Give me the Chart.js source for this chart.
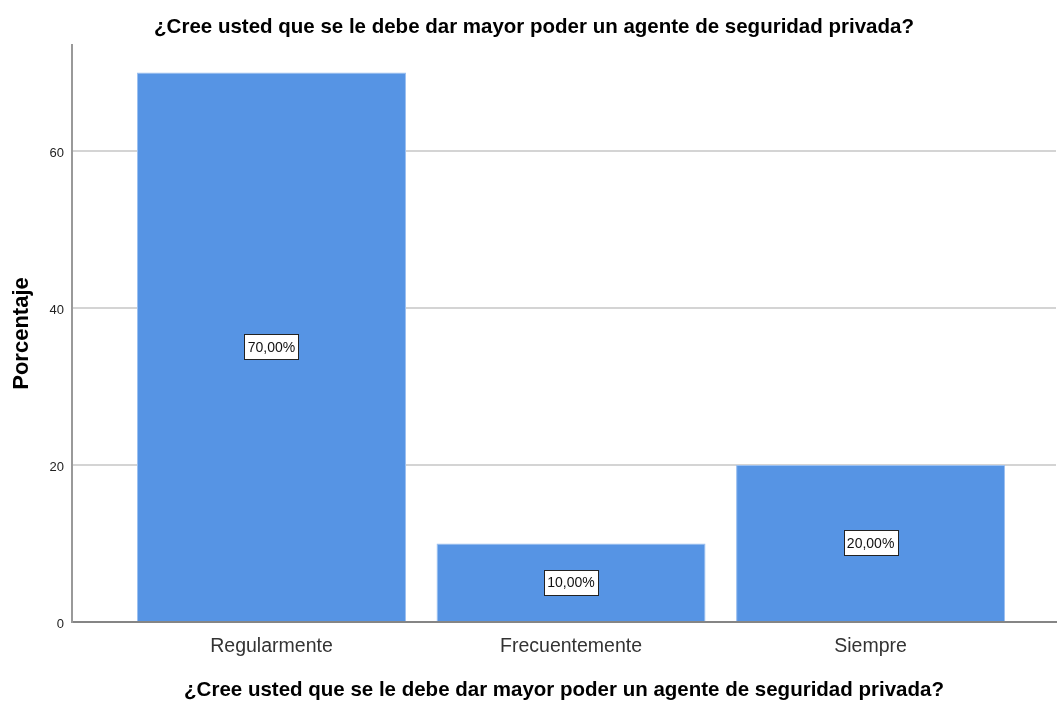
<!DOCTYPE html>
<html>
<head>
<meta charset="utf-8">
<script src="https://cdn.jsdelivr.net/npm/chart.js@4"></script>
<style>
  html, body { margin: 0; padding: 0; background: #fff; }
  #wrap { width: 1058px; height: 704px; }
</style>
</head>
<body>
<div id="wrap"><canvas id="chart"></canvas></div>
<script>
// Data
const categories = ["Regularmente", "Frecuentemente", "Siempre"];
const percentValues = [70, 10, 20];
const yTicks = [0, 20, 40, 60];
const titleText = "¿Cree usted que se le debe dar mayor poder un agente de seguridad privada?";

const FONT = "'Liberation Sans', Arial, sans-serif";

// Boxed percentage label in the middle of each bar
const boxLabels = {
  id: "boxLabels",
  afterDatasetsDraw(chart) {
    const ctx = chart.ctx;
    const meta = chart.getDatasetMeta(0);
    ctx.save();
    ctx.font = "14px " + FONT;
    ctx.textAlign = "center";
    ctx.textBaseline = "middle";
    meta.data.forEach((bar, i) => {
      const text = percentValues[i].toFixed(2).replace(".", ",") + "%";
      const w = Math.round(ctx.measureText(text).width + 7);
      const h = 25;
      const cx = bar.x;
      const cy = (bar.y + bar.base) / 2;
      const bx = Math.round(cx - w / 2) + 0.5;
      const by = Math.round(cy - h / 2) + 0.5;
      ctx.fillStyle = "#ffffff";
      ctx.fillRect(bx, by, w, h);
      ctx.strokeStyle = "#222222";
      ctx.lineWidth = 1;
      ctx.strokeRect(bx, by, w, h);
      ctx.fillStyle = "#111111";
      ctx.fillText(text, cx, cy + 1);
    });
    ctx.restore();
  },
};

const ctx = document.getElementById("chart").getContext("2d");
new Chart(ctx, {
  type: "bar",
  data: {
    datasets: [
      {
        data: percentValues.map((v, i) => ({ x: i, y: v })),
        backgroundColor: "#5694e4",
        borderColor: "#9cc0f0",
        borderWidth: 1,
        categoryPercentage: 1,
        barPercentage: 0.898,
      },
    ],
  },
  options: {
    responsive: true,
    maintainAspectRatio: false,
    animation: false,
    layout: { padding: { left: 12, right: 2, top: 0, bottom: 0 } },
    plugins: {
      legend: { display: false },
      tooltip: { enabled: false },
      title: {
        display: true,
        text: titleText,
        color: "#000",
        font: { family: FONT, size: 20.5, weight: "bold" },
        padding: { top: 14.7, bottom: 5.7 },
      },
    },
    scales: {
      x: {
        type: "linear",
        offset: false,
        min: -0.666,
        max: 2.619,
        afterBuildTicks: (scale) => {
          scale.ticks = categories.map((c, i) => ({ value: i }));
        },
        afterFit: (scale) => {
          scale.height = 82;
        },
        grid: { display: false, drawTicks: false },
        border: { display: true, color: "#858585", width: 2 },
        ticks: {
          autoSkip: false,
          maxRotation: 0,
          padding: 13,
          color: "#333",
          font: { family: FONT, size: 19.5 },
          callback: (v) => categories[v],
        },
        title: {
          display: true,
          text: titleText,
          color: "#000",
          font: { family: FONT, size: 20.5, weight: "bold" },
          padding: { top: 10, bottom: 1 },
        },
      },
      y: {
        min: 0,
        max: 73.5,
        afterBuildTicks: (scale) => {
          scale.ticks = yTicks.map((v) => ({ value: v }));
        },
        afterFit: (scale) => {
          scale.width = 60;
        },
        grid: { color: "#d4d4d4", lineWidth: 2, drawTicks: false },
        border: { display: true, color: "#999999", width: 2 },
        ticks: {
          padding: 8,
          labelOffset: 2,
          color: "#222",
          font: { family: FONT, size: 13 },
        },
        title: {
          display: true,
          text: "Porcentaje",
          color: "#000",
          font: { family: FONT, size: 22, weight: "bold" },
          padding: { top: -3, bottom: 0 },
        },
      },
    },
  },
  plugins: [boxLabels],
});
</script>
</body>
</html>
